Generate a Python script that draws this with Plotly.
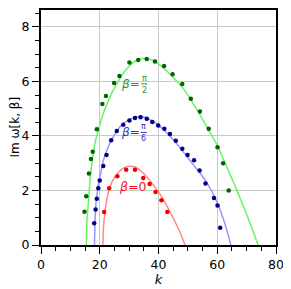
import plotly.graph_objects as go

# ---- data ----
# beta = pi/2 (green)
green_dots_k = [14.8, 15.4, 16.3, 17.0, 17.6, 19.0, 20.9, 22.1, 24.9, 26.7, 30.1, 33.1, 36.0,
                38.8, 41.9, 44.8, 48.1, 51.0, 54.1, 57.1, 60.1, 62.0, 63.9]
green_dots_w = [1.22, 1.79, 2.62, 3.15, 3.42, 4.25, 5.17, 5.47, 5.94, 6.20, 6.69, 6.79, 6.82,
                6.73, 6.57, 6.26, 5.91, 5.36, 4.90, 4.26, 3.59, 3.00, 2.00]
green_curve_k = [15.4, 15.5, 15.6, 16.2, 16.7, 17.5, 18.5, 19.6, 20.5, 22, 24, 26, 28, 30, 32, 34,
                 36, 38, 40, 42, 44, 46, 48, 50, 52, 54, 56, 58, 60, 62, 64, 66, 68, 70, 72, 73.9]
green_curve_w = [0.0, 0.4, 0.8, 1.66, 2.4, 3.15, 3.8, 4.25, 4.59, 5.05, 5.55, 5.95, 6.3, 6.56, 6.74, 6.83,
                 6.84, 6.77, 6.64, 6.46, 6.26, 6.03, 5.8, 5.5, 5.15, 4.8, 4.42, 4.04, 3.65, 3.17, 2.68,
                 2.18, 1.66, 1.12, 0.56, 0.0]

# beta = pi/6 (blue)
blue_dots_k = [18.1, 18.6, 19.0, 19.5, 20.0, 21.2, 22.3, 23.9, 25.8, 28.0, 30.1, 32.0, 33.9, 36.0,
               37.9, 39.9, 42.0, 43.9, 45.9, 48.1, 49.9, 52.1, 54.0, 56.0, 58.9, 60.1, 61.0]
blue_dots_w = [0.80, 1.30, 1.70, 2.08, 2.37, 2.90, 3.30, 3.84, 4.18, 4.41, 4.57, 4.66, 4.69, 4.63,
               4.51, 4.38, 4.26, 4.07, 3.82, 3.53, 3.30, 3.11, 2.73, 2.26, 1.72, 1.45, 0.63]
blue_curve_k = [18.2, 18.3, 18.4, 18.8, 19.2, 19.6, 20.1, 21.3, 23, 24.5, 26.1, 28, 30, 32, 34, 36,
                38, 40, 42, 44, 46, 48, 50, 52, 54, 56, 58, 60, 61, 62, 63, 64, 64.6]
blue_curve_w = [0.0, 0.5, 0.93, 1.66, 1.95, 2.28, 2.52, 3.13, 3.62, 3.95, 4.23, 4.45, 4.6, 4.69, 4.71, 4.66,
                4.55, 4.4, 4.2, 3.98, 3.74, 3.48, 3.2, 2.92, 2.66, 2.36, 2.0, 1.55, 1.28, 0.98, 0.64, 0.25, 0.0]

# beta = 0 (red)
red_dots_k = [21.5, 23.2, 26.0, 29.0, 32.0, 34.8, 37.0, 39.0, 41.0, 43.0]
red_dots_w = [1.21, 2.08, 2.52, 2.76, 2.76, 2.46, 2.24, 1.94, 1.64, 1.21]
red_curve_k = [21.05, 21.2, 21.5, 22.4, 23.5, 25, 26.5, 28, 30, 32, 34, 36, 38, 40, 42, 44, 46, 47.5, 49]
red_curve_w = [0.0, 0.5, 0.93, 1.66, 2.15, 2.47, 2.68, 2.82, 2.89, 2.86, 2.72, 2.5, 2.23, 1.95, 1.6,
               1.2, 0.77, 0.42, 0.0]

x_ticks = [0, 20, 40, 60, 80]
y_ticks = [0, 2, 4, 6, 8]

FONT = "DejaVu Sans"

fig = go.Figure()

series = [
    (green_curve_k, green_curve_w, green_dots_k, green_dots_w, "rgb(100,245,100)", "rgb(0,100,0)"),
    (blue_curve_k, blue_curve_w, blue_dots_k, blue_dots_w, "rgb(150,150,250)", "rgb(0,0,139)"),
    (red_curve_k, red_curve_w, red_dots_k, red_dots_w, "rgb(255,135,135)", "rgb(240,0,0)"),
]
for ck, cw, dk, dw, lc, mc in series:
    fig.add_trace(go.Scatter(x=ck, y=cw, mode="lines",
                             line=dict(color=lc, width=1.5, shape="spline", smoothing=0.5),
                             showlegend=False, hoverinfo="skip"))
    fig.add_trace(go.Scatter(x=dk, y=dw, mode="markers", marker=dict(color=mc, size=4.5),
                             showlegend=False))

# labels
def frac_label(xc, yc, num, den, color):
    fig.add_annotation(x=xc, y=yc, xref="x", yref="y", text="<i>β</i>=", showarrow=False,
                       xanchor="right", yanchor="middle", xshift=-2, font=dict(family=FONT, size=12, color=color))
    fig.add_annotation(x=xc, y=yc, xref="x", yref="y", text=num, showarrow=False,
                       xanchor="center", yanchor="bottom", yshift=-1, font=dict(family=FONT, size=8, color=color))
    fig.add_annotation(x=xc, y=yc, xref="x", yref="y", text=den, showarrow=False,
                       xanchor="center", yanchor="top", yshift=0, font=dict(family=FONT, size=8, color=color))
    fig.add_shape(type="line", xref="x", yref="y", xsizemode="pixel", ysizemode="pixel",
                  xanchor=xc, yanchor=yc, x0=-3, x1=3, y0=0, y1=0, line=dict(color=color, width=1))

frac_label(35.1, 5.91, "π", "2", "rgb(40,150,40)")
frac_label(35.0, 4.13, "π", "6", "rgb(50,50,190)")
fig.add_annotation(x=31.2, y=2.14, xref="x", yref="y", text="<i>β</i>=0", showarrow=False,
                   xanchor="center", yanchor="middle", font=dict(family=FONT, size=12.5, color="rgb(250,20,20)"))

# y-axis title placed as a rotated annotation left of the tick labels
fig.add_annotation(x=0, y=0.5, xref="paper", yref="paper", text="Im ω[k, β]", showarrow=False,
                   textangle=-90, xanchor="center", yanchor="middle", xshift=-27,
                   font=dict(family=FONT, size=12, color="black"))

axis_common = dict(
    showline=True, linecolor="black", linewidth=2, mirror=True,
    ticks="outside", ticklen=7, tickwidth=1, tickcolor="black",
    showgrid=True, gridcolor="rgb(200,200,200)", gridwidth=1,
    zeroline=False, tickfont=dict(family=FONT, size=12.5, color="black"),
    automargin=False,
)

fig.update_xaxes(range=[0, 80], tickvals=x_ticks, ticktext=[str(v) for v in x_ticks],
                 minor=dict(dtick=5, ticks="outside", ticklen=4, tickcolor="black", showgrid=False),
                 title=dict(text="<i>k</i>", font=dict(family=FONT, size=13, color="black"), standoff=2),
                 **axis_common)
fig.update_yaxes(range=[0, 8.62], tickvals=y_ticks, ticktext=[str(v) for v in y_ticks],
                 minor=dict(dtick=0.5, ticks="outside", ticklen=4, tickcolor="black", showgrid=False),
                 **axis_common)

# the page body adds an 8px offset, so the figure is 283x281 with matching margins
fig.update_layout(width=283, height=281, margin=dict(l=33, r=15, t=2, b=44),
                  plot_bgcolor="white", paper_bgcolor="white", font=dict(family=FONT))

fig.write_html("out.html")
